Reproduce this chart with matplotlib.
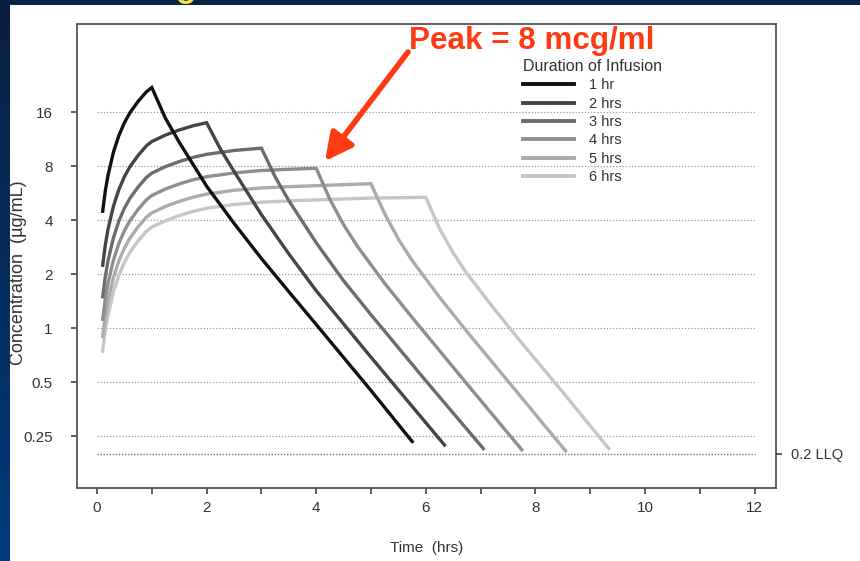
import numpy as np
import matplotlib
matplotlib.use("Agg")
import matplotlib.pyplot as plt
from matplotlib.patches import Rectangle
from matplotlib.lines import Line2D
import matplotlib.colors as mcolors

plt.rcParams['font.family'] = ['Liberation Sans', 'DejaVu Sans']

# ---------------- data ----------------
durations = ["1 hr", "2 hrs", "3 hrs", "4 hrs", "5 hrs", "6 hrs"]

t_1hr = [0.1, 0.15, 0.2, 0.3, 0.4, 0.5, 0.6, 0.75, 0.9, 1.0,
         1.25, 1.5, 2.0, 2.5, 3.0, 3.5, 4.0, 5.0, 5.77]
c_1hr = [4.4, 5.8, 7.1, 9.6, 11.9, 14.0, 15.9, 18.4, 20.8, 22.0,
         14.8, 10.9, 6.2, 3.85, 2.45, 1.6, 1.05, 0.45, 0.23]

t_2hr = [0.1, 0.15, 0.2, 0.3, 0.4, 0.5, 0.6, 0.75, 0.9, 1.0, 1.25, 1.5, 1.75, 2.0,
         2.25, 2.5, 3.0, 3.5, 4.0, 5.0, 6.36]
c_2hr = [2.2, 2.9, 3.55, 4.8, 5.95, 7.0, 7.95, 9.2, 10.4, 11.0, 11.95, 12.75, 13.45, 14.0,
         10.0, 7.5, 4.3, 2.6, 1.62, 0.69, 0.22]

t_3hr = [0.1, 0.15, 0.2, 0.3, 0.4, 0.5, 0.6, 0.75, 0.9, 1.0, 1.25, 1.5, 1.75, 2.0, 2.5, 3.0,
         3.25, 3.5, 4.0, 4.5, 5.0, 6.0, 7.07]
c_3hr = [1.47, 1.93, 2.37, 3.2, 3.97, 4.67, 5.3, 6.13, 6.93, 7.33, 7.97, 8.5, 8.97, 9.33, 9.8, 10.1,
         7.0, 5.15, 3.0, 1.84, 1.19, 0.51, 0.21]

t_4hr = [0.1, 0.15, 0.2, 0.3, 0.4, 0.5, 0.6, 0.75, 0.9, 1.0, 1.25, 1.5, 1.75, 2.0, 2.5, 3.0, 3.5, 4.0,
         4.25, 4.5, 4.75, 5.25, 5.75, 6.75, 7.77]
c_4hr = [1.1, 1.45, 1.78, 2.4, 2.98, 3.5, 3.98, 4.6, 5.2, 5.5, 5.98, 6.38, 6.73, 7.0, 7.35, 7.58, 7.7, 7.8,
         5.23, 3.78, 2.87, 1.78, 1.15, 0.49, 0.207]

t_5hr = [0.1, 0.15, 0.2, 0.3, 0.4, 0.5, 0.6, 0.75, 0.9, 1.0, 1.25, 1.5, 1.75, 2.0, 2.5, 3.0, 3.5, 4.0, 5.0,
         5.25, 5.5, 5.75, 6.25, 6.75, 7.75, 8.57]
c_5hr = [0.88, 1.16, 1.42, 1.92, 2.38, 2.8, 3.18, 3.68, 4.16, 4.4, 4.78, 5.1, 5.38, 5.6, 5.88, 6.06, 6.16, 6.24, 6.4,
         4.35, 3.14, 2.39, 1.49, 0.96, 0.41, 0.204]

t_6hr = [0.1, 0.15, 0.2, 0.3, 0.4, 0.5, 0.6, 0.75, 0.9, 1.0, 1.25, 1.5, 1.75, 2.0, 2.5, 3.0, 3.5, 4.0, 5.0, 6.0,
         6.25, 6.5, 6.75, 7.25, 7.75, 8.5, 9.36]
c_6hr = [0.73, 0.97, 1.18, 1.6, 1.98, 2.33, 2.65, 3.07, 3.47, 3.67, 3.98, 4.25, 4.48, 4.67, 4.9, 5.05, 5.13, 5.2, 5.32, 5.37,
         3.6, 2.63, 2.02, 1.28, 0.83, 0.44, 0.21]

y_ticks = [16, 8, 4, 2, 1, 0.5, 0.25]
y_ticklabels = ["16", "8", "4", "2", "1", "0.5", "0.25"]
x_ticks = [0, 2, 4, 6, 8, 10, 12]
llq_value = 0.2
llq_label = "0.2 LLQ"
peak_label = "Peak = 8 mcg/ml"
peak_point = (4.16, 8.55)

series_t = [t_1hr, t_2hr, t_3hr, t_4hr, t_5hr, t_6hr]
series_c = [c_1hr, c_2hr, c_3hr, c_4hr, c_5hr, c_6hr]
colors = ["#111111", "#454545", "#6c6c6c", "#8e8e8e", "#ababab", "#c6c6c6"]

# ---------------- figure ----------------
W, H = 860, 561
fig = plt.figure(figsize=(W / 100, H / 100), dpi=100)
fig.patch.set_facecolor("#0b2143")

# white slide panel (behind everything)
fig.patches.append(Rectangle((10 / W, 0), 1 - 10 / W, 1 - 5 / H,
                             transform=fig.transFigure, facecolor="white",
                             edgecolor="none", zorder=-10))
# left blue gradient strip
gax = fig.add_axes([0, 0, 10 / W, 1])
grad = np.linspace(0, 1, 256).reshape(-1, 1)
cmap = mcolors.LinearSegmentedColormap.from_list("g", ["#0a1f40", "#003a7c"])
gax.imshow(grad, aspect="auto", cmap=cmap, extent=[0, 1, 0, 1], origin="upper")
gax.axis("off")

# partially visible yellow title glyph at the top
fig.text(186 / W, 1 + 3 / H, "g", color="#f2e64a", fontsize=24,
         fontweight="bold", ha="center", va="baseline", zorder=-5)

ax = fig.add_axes([77 / W, 1 - 488 / H, (776 - 77) / W, (488 - 24) / H])
ax.set_facecolor("white")
ax.set_yscale("log")
ax.set_xlim(-0.365, 12.39)
ax.set_ylim(0.1288, 49.7)

# dotted reference lines
ax.hlines(y_ticks, 0.0, 12.0, colors="#9a9a9a", linestyles=(0, (1, 1.5)),
          linewidth=0.9, zorder=1)
ax.hlines([llq_value], 0.0, 12.0, colors="#707070", linestyles=(0, (1, 1.2)),
          linewidth=1.0, zorder=1)

for i in range(len(durations) - 1, -1, -1):
    ax.plot(series_t[i], series_c[i], color=colors[i], lw=2.4,
            solid_joinstyle="miter", solid_capstyle="butt", zorder=3 + (6 - i))
handles = [Line2D([0], [0], color=colors[i], lw=2.8) for i in range(len(durations))]

ax.set_yticks(y_ticks)
ax.set_yticklabels(y_ticklabels)
ax.yaxis.set_minor_locator(matplotlib.ticker.NullLocator())
ax.set_xticks(x_ticks)
ax.set_xticks(range(0, 13), minor=True)
ax.tick_params(axis="y", which="major", direction="out", length=4.5, width=1.1,
               pad=13, labelsize=11, colors="#333333")
ax.tick_params(axis="x", which="both", direction="out", length=4.5, width=1.1,
               pad=5, labelsize=11, colors="#333333")
for s in ax.spines.values():
    s.set_color("#555555")
    s.set_linewidth(1.3)

ax.set_xlabel("Time  (hrs)", fontsize=11, color="#333333")
ax.xaxis.set_label_coords(0.5, -(541 - 488) / (488 - 24), transform=ax.transAxes)
ax.set_ylabel("Concentration  (\u00b5g/mL)", fontsize=13, color="#333333")
ax.yaxis.set_label_coords(-(77 - 27) / (776 - 77), (488 - 273) / (488 - 24))

# right LLQ tick
ax2 = ax.twinx()
ax2.set_yscale("log")
ax2.set_ylim(ax.get_ylim())
ax2.set_yticks([llq_value])
ax2.set_yticklabels([llq_label])
ax2.yaxis.set_minor_locator(matplotlib.ticker.NullLocator())
ax2.tick_params(axis="y", direction="out", length=4.5, width=1.1, pad=6,
                labelsize=10.5, colors="#333333")
for s in ax2.spines.values():
    s.set_visible(False)

# legend
leg = ax.legend(handles, durations, title="Duration of Infusion",
                loc="upper left", bbox_to_anchor=(523 / W, 1 - 59 / H),
                bbox_transform=fig.transFigure, frameon=False,
                fontsize=10.5, title_fontsize=11.5, alignment="left",
                handlelength=3.5, handletextpad=1.0, labelspacing=0.3,
                borderpad=0, borderaxespad=0)
for txt in leg.get_texts():
    txt.set_color("#333333")
leg.get_title().set_color("#333333")

# red annotation
red = "#ff3a12"
fig.text(409 / W, 1 - 49 / H, peak_label, color=red, fontsize=22.6,
         fontweight="bold", ha="left", va="baseline")
ax.annotate("", xy=peak_point, xycoords="data",
            xytext=(408 / W, 1 - 52 / H), textcoords="figure fraction",
            arrowprops=dict(arrowstyle="-|>,head_length=0.75,head_width=0.38",
                            color=red, lw=4, mutation_scale=22,
                            shrinkA=0, shrinkB=0),
            zorder=20, annotation_clip=False)

fig.savefig("out.png", dpi=100, facecolor=fig.get_facecolor())
